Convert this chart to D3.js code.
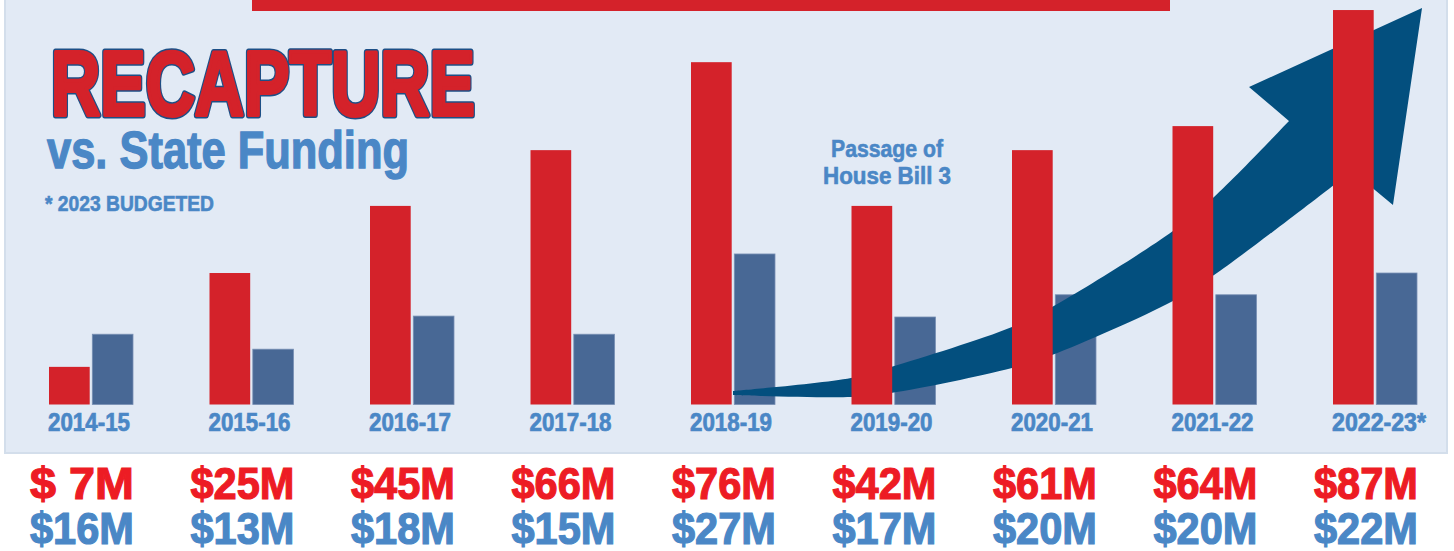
<!DOCTYPE html>
<html>
<head>
<meta charset="utf-8">
<script src="https://cdn.jsdelivr.net/npm/d3@7"></script>
<style>
  html, body { margin: 0; padding: 0; background: #ffffff; }
  svg { display: block; }
</style>
</head>
<body>
<svg id="chart" width="1454" height="551"></svg>
<script>
// ---------- data ----------
const categories = ["2014-15", "2015-16", "2016-17", "2017-18", "2018-19", "2019-20", "2020-21", "2021-22", "2022-23*"];
// Bar heights as drawn in the picture (the original bars are not to scale with their labels)
const recaptureBar = [8.3, 29.0, 43.8, 56.1, 75.5, 43.8, 56.1, 61.4, 87.0];
const stateBar     = [15.5, 12.2, 19.5, 15.5, 33.2, 19.3, 24.2, 24.2, 29.0];
// Printed labels
const recaptureLabels = ["$  7M", "$25M", "$45M", "$66M", "$76M", "$42M", "$61M", "$64M", "$87M"];
const stateLabels     = ["$16M", "$13M", "$18M", "$15M", "$27M", "$17M", "$20M", "$20M", "$22M"];
// Trend arrow outline in data units: [category index, value]
const arrowUpper = [[4.000, 2.98], [4.735, 5.84], [4.984, 8.27], [5.738, 17.09], [5.988, 21.50], [6.741, 38.27], [6.997, 45.77], [7.464, 62.53]];
const arrowHead  = [[7.215, 70.03], [8.293, 87.45], [8.112, 44.00]];
const arrowLower = [[7.857, 51.50], [7.745, 48.41], [6.997, 28.56], [6.741, 22.83], [5.988, 10.92], [5.738, 8.05], [4.984, 2.54], [4.735, 1.65], [4.000, 2.10]];

// ---------- setup ----------
const svg = d3.select("#chart");
const C = {
  panel: "#e2eaf5", panelStroke: "#d3deeb",
  red: "#d4222a", blue: "#486895", arrow: "#034f7e",
  textBlue: "#4a87c6", labelRed: "#ed1c24", titleStroke: "#1d4f86"
};
const narrow = "'Liberation Sans Narrow', 'Arial Narrow', sans-serif";

const baseY = 404.5;
const x0 = d3.scalePoint().domain(categories).range([49, 1333]);
const x1 = d3.scaleBand().domain(["recapture", "state"]).range([0, 84]).paddingInner(0.06);
const y = d3.scaleLinear().domain([0, 90]).range([baseY, baseY - 90 * 4.534]);
const xi = d3.scaleLinear().domain([0, 8]).range([x0(categories[0]) + 42, x0(categories[8]) + 42]);

// panel
svg.append("rect").attr("x", 5).attr("y", -3).attr("width", 1442).attr("height", 456)
  .attr("fill", C.panel).attr("stroke", C.panelStroke).attr("stroke-width", 2);
// top red band
svg.append("rect").attr("x", 252).attr("y", 0).attr("width", 918).attr("height", 11).attr("fill", C.red);

// state funding bars
svg.append("g").selectAll("rect").data(categories).join("rect")
  .attr("x", d => x0(d) + x1("state"))
  .attr("y", (d, i) => y(stateBar[i]))
  .attr("width", x1.bandwidth())
  .attr("height", (d, i) => baseY - y(stateBar[i]))
  .attr("fill", C.blue)
  .attr("stroke", "#7890b4").attr("stroke-width", 0.8);

// arrow
const px = p => [xi(p[0]), y(p[1])];
const curve = d3.line().curve(d3.curveCatmullRom.alpha(0.5));
const up = curve(arrowUpper.map(px));
const lo = curve(arrowLower.map(px));
const head = arrowHead.map(px).map(p => "L" + p[0] + "," + p[1]).join("");
svg.append("path")
  .attr("d", up + head + "L" + lo.slice(1) + "Z")
  .attr("fill", C.arrow);

// recapture bars
svg.append("g").selectAll("rect").data(categories).join("rect")
  .attr("x", d => x0(d) + x1("recapture"))
  .attr("y", (d, i) => y(recaptureBar[i]))
  .attr("width", x1.bandwidth())
  .attr("height", (d, i) => baseY - y(recaptureBar[i]))
  .attr("fill", C.red);

// category labels
svg.append("g").selectAll("text").data(categories).join("text")
  .attr("x", d => x0(d) - 1)
  .attr("y", 431)
  .attr("font-family", narrow).attr("font-weight", "bold").attr("font-size", 25)
  .attr("fill", C.textBlue).attr("stroke", C.textBlue).attr("stroke-width", 0.7)
  .attr("textLength", d => d.endsWith("*") ? 94 : 82).attr("lengthAdjust", "spacingAndGlyphs")
  .text(d => d);

// value labels
svg.append("g").selectAll("text").data(categories).join("text")
  .attr("x", d => x0(d) + x1("state") + x1.bandwidth() + 1)
  .attr("y", 499).attr("text-anchor", "end")
  .attr("font-family", narrow).attr("font-weight", "bold").attr("font-size", 45)
  .attr("fill", C.labelRed).attr("stroke", C.labelRed).attr("stroke-width", 1.2)
  .attr("textLength", 104).attr("lengthAdjust", "spacingAndGlyphs")
  .text((d, i) => recaptureLabels[i]);
svg.append("g").selectAll("text").data(categories).join("text")
  .attr("x", d => x0(d) + x1("state") + x1.bandwidth() + 1)
  .attr("y", 544).attr("text-anchor", "end")
  .attr("font-family", narrow).attr("font-weight", "bold").attr("font-size", 44)
  .attr("fill", C.textBlue).attr("stroke", C.textBlue).attr("stroke-width", 1.2)
  .attr("textLength", 104).attr("lengthAdjust", "spacingAndGlyphs")
  .text((d, i) => stateLabels[i]);

// titles
const titleAttrs = sel => sel.attr("x", 51).attr("y", 115)
  .attr("font-family", narrow).attr("font-weight", "bold").attr("font-size", 90)
  .attr("stroke-linejoin", "round")
  .attr("textLength", 424).attr("lengthAdjust", "spacingAndGlyphs")
  .text("RECAPTURE");
svg.append("text").call(titleAttrs)
  .attr("fill", C.titleStroke).attr("stroke", C.titleStroke).attr("stroke-width", 7);
svg.append("text").call(titleAttrs)
  .attr("fill", C.red).attr("stroke", C.red).attr("stroke-width", 4);

svg.append("text").attr("x", 47).attr("y", 168)
  .attr("font-family", narrow).attr("font-weight", "bold").attr("font-size", 51)
  .attr("fill", C.textBlue).attr("stroke", C.textBlue).attr("stroke-width", 1.3)
  .attr("textLength", 362).attr("lengthAdjust", "spacingAndGlyphs")
  .text("vs. State Funding");
svg.append("text").attr("x", 45).attr("y", 211)
  .attr("font-family", narrow).attr("font-weight", "bold").attr("font-size", 22)
  .attr("fill", C.textBlue).attr("stroke", C.textBlue).attr("stroke-width", 0.6)
  .attr("textLength", 169).attr("lengthAdjust", "spacingAndGlyphs")
  .text("* 2023 BUDGETED");

// annotation
const ann = svg.append("text").attr("font-family", narrow).attr("font-weight", "bold")
  .attr("font-size", 24).attr("fill", C.textBlue).attr("stroke", C.textBlue).attr("stroke-width", 0.6)
  .attr("text-anchor", "middle");
ann.append("tspan").attr("x", 887).attr("y", 157).attr("textLength", 112).attr("lengthAdjust", "spacingAndGlyphs").text("Passage of");
ann.append("tspan").attr("x", 887).attr("y", 184).attr("textLength", 128).attr("lengthAdjust", "spacingAndGlyphs").text("House Bill 3");
</script>
</body>
</html>
